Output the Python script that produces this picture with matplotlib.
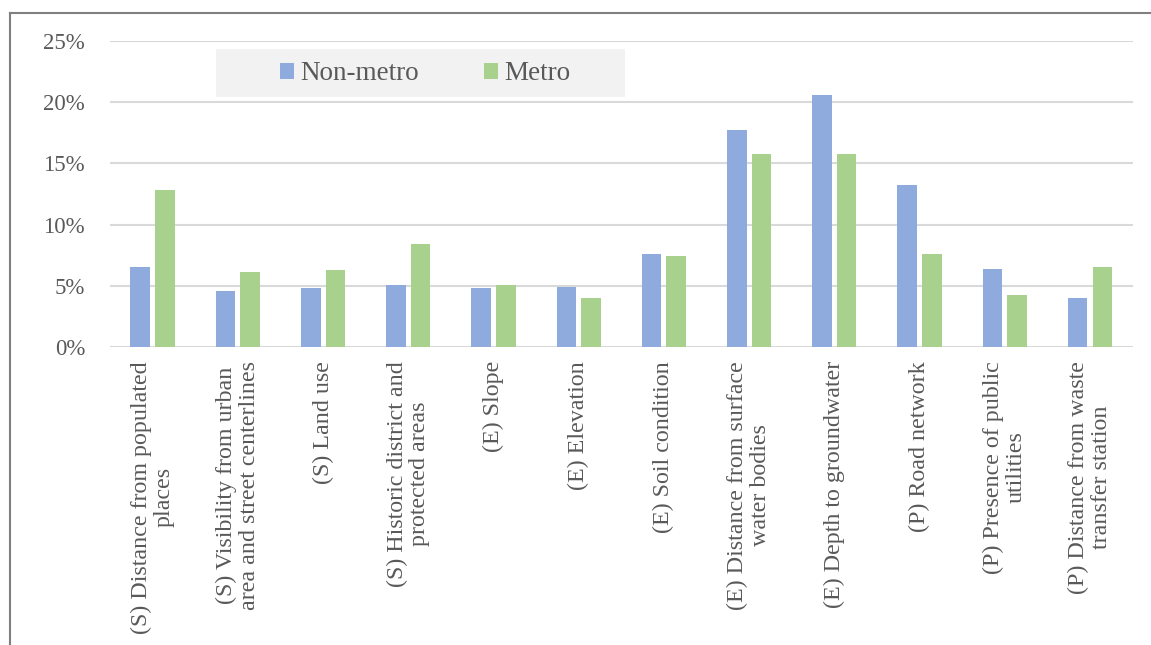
import matplotlib.pyplot as plt
import numpy as np
from matplotlib.lines import Line2D
from matplotlib.patches import Rectangle
from matplotlib.ticker import PercentFormatter

categories = [
    "(S) Distance from populated\nplaces",
    "(S) Visibility from urban\narea and street centerlines",
    "(S) Land use",
    "(S) Historic district and\nprotected areas",
    "(E) Slope",
    "(E) Elevation",
    "(E) Soil condition",
    "(E) Distance from surface\nwater bodies",
    "(E) Depth to groundwater",
    "(P) Road network",
    "(P) Presence of public\nutilities",
    "(P) Distance from waste\ntransfer station",
]
non_metro = [6.5, 4.6, 4.85, 5.1, 4.8, 4.9, 7.6, 17.7, 20.6, 13.2, 6.4, 4.0]
metro = [12.8, 6.1, 6.3, 8.4, 5.1, 4.0, 7.4, 15.8, 15.8, 7.6, 4.25, 6.5]

blue = "#8faadc"
green = "#a9d18e"
txt = "#595959"

plt.rcParams['font.family'] = ['Liberation Serif', 'DejaVu Serif']

fig = plt.figure(figsize=(11.51, 6.45), dpi=100)
ax = fig.add_axes([0.0956, 0.462, 0.8884, 0.4744])

x = np.arange(len(categories))
w = 0.23
ax.bar(x - 0.145, non_metro, w, color=blue, label="Non-metro", zorder=3)
ax.bar(x + 0.145, metro, w, color=green, label="Metro", zorder=3)

ax.set_xlim(-0.5, len(categories) - 0.5)
ax.set_ylim(0, 25)
ax.set_yticks(np.arange(0, 26, 5))
ax.yaxis.set_major_formatter(PercentFormatter(decimals=0))
ax.grid(axis='y', color="#d9d9d9", linewidth=1.5, zorder=0)
for s in ax.spines.values():
    s.set_visible(False)
ax.tick_params(length=0, labelcolor=txt)
ax.tick_params(axis='y', pad=18, labelsize=16.5)
ax.tick_params(axis='x', pad=10, labelsize=17.3)
ax.set_xticks(x)
ax.set_xticklabels(categories, rotation=90, ha='center', va='top',
                   multialignment='center', linespacing=1.1)

# legend sits on a light grey panel
fig.add_artist(Rectangle((216 / 1151, 1 - 97 / 645), 409 / 1151, 48 / 645,
                         transform=fig.transFigure, facecolor="#f2f2f2",
                         edgecolor='none', zorder=1))
leg = fig.legend(loc='center', bbox_to_anchor=(425 / 1151, 1 - 74 / 645),
                 ncol=2, frameon=False, fontsize=19.5, labelcolor=txt,
                 handlelength=0.52, handleheight=0.52, handletextpad=0.22,
                 columnspacing=2.4)

# outer frame, only top and left edges are visible
fig.add_artist(Line2D([10 / 1151, 10 / 1151], [0, 1 - 13 / 645],
                      transform=fig.transFigure, color="#7f7f7f", linewidth=1.5))
fig.add_artist(Line2D([10 / 1151, 1], [1 - 13 / 645, 1 - 13 / 645],
                      transform=fig.transFigure, color="#7f7f7f", linewidth=1.5))

fig.savefig("out.png", dpi=100, facecolor="white")
